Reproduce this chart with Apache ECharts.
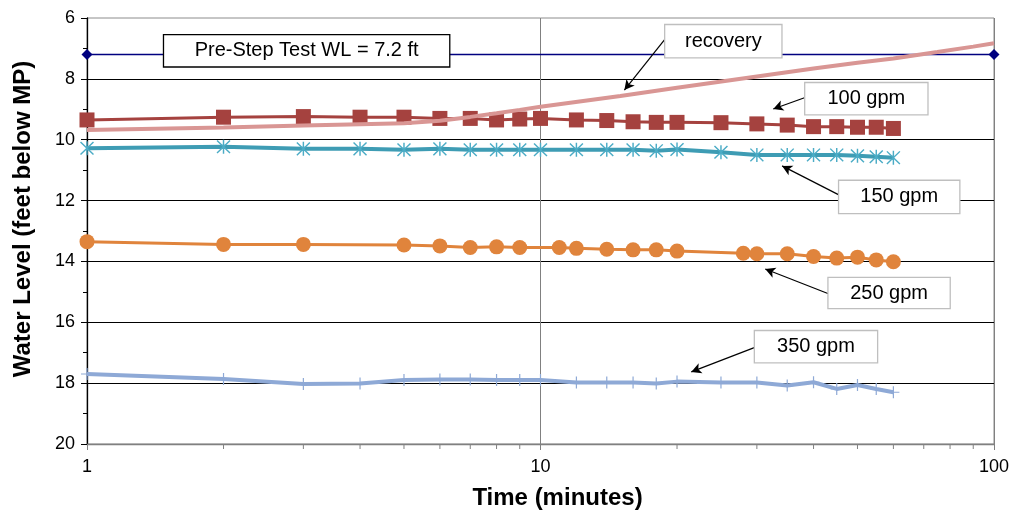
<!DOCTYPE html>
<html>
<head>
<meta charset="utf-8">
<script src="https://cdn.jsdelivr.net/npm/echarts@6/dist/echarts.min.js"></script>
<style>
  html, body { margin: 0; padding: 0; background: #fff; }
  #chart { width: 1013px; height: 515px; }
</style>
</head>
<body>
<div id="chart"></div>
<script>
// step test data (time in minutes, water level in feet below MP)
const times = [1, 2, 3, 4, 5, 6, 7, 8, 9, 10, 12, 14, 16, 18, 20, 25, 30, 35, 40, 45, 50, 55, 60];
const gpm100 = [9.35, 9.26, 9.24, 9.26, 9.26, 9.30, 9.30, 9.35, 9.32, 9.30, 9.35, 9.37, 9.41, 9.43, 9.43, 9.44, 9.48, 9.52, 9.57, 9.57, 9.59, 9.59, 9.63];
const gpm150 = [10.28, 10.23, 10.30, 10.30, 10.33, 10.30, 10.33, 10.33, 10.33, 10.33, 10.33, 10.33, 10.33, 10.36, 10.32, 10.41, 10.50, 10.50, 10.50, 10.50, 10.53, 10.56, 10.59];
const gpm350 = [17.70, 17.86, 18.03, 18.01, 17.90, 17.88, 17.88, 17.90, 17.90, 17.90, 17.98, 17.98, 17.98, 18.01, 17.95, 17.98, 17.98, 18.08, 17.97, 18.19, 18.06, 18.19, 18.30];

const times250 = [1, 2, 3, 5, 6, 7, 8, 9, 11, 12, 14, 16, 18, 20, 28, 30, 35, 40, 45, 50, 55, 60];
const gpm250 = [13.35, 13.44, 13.44, 13.46, 13.49, 13.54, 13.52, 13.54, 13.54, 13.57, 13.60, 13.62, 13.62, 13.66, 13.73, 13.75, 13.75, 13.84, 13.89, 13.86, 13.95, 14.01];

const timesRecovery = [1, 2, 3, 4, 5, 6, 7, 8, 9, 10, 15, 20, 30, 40, 50, 60, 75, 90, 100];
const recovery = [9.68, 9.60, 9.53, 9.49, 9.46, 9.38, 9.25, 9.13, 9.02, 8.92, 8.56, 8.29, 7.92, 7.66, 7.47, 7.33, 7.12, 6.94, 6.83];

const timesPreStep = [1, 100];
const preStepWL = [7.2, 7.2];

const xMinorTicks = [2, 3, 4, 5, 6, 7, 8, 9, 20, 30, 40, 50, 60, 70, 80, 90];

const zip = (xs, ys) => xs.map((x, i) => [x, ys[i]]);

// marker shapes (Excel-like asterisk and plus)
const asteriskPath = 'path://M9 0H11V20H9Z M0.3 1.7L1.7 0.3L19.7 18.3L18.3 19.7Z M18.3 0.3L19.7 1.7L1.7 19.7L0.3 18.3Z';
const plusPath = 'path://M9 0H11V9H20V11H11V20H9V11H0V9H9Z';

const FONT = '"Liberation Sans", Arial, sans-serif';

// annotation box: the label itself draws the white box
function box(text, coord, w, h, border) {
  return {
    coord: coord,
    symbol: 'rect',
    symbolSize: [w, h],
    itemStyle: { color: 'rgba(0,0,0,0)' },
    label: {
      show: true,
      position: 'inside',
      formatter: text,
      color: '#000',
      fontSize: 20,
      fontFamily: FONT,
      backgroundColor: '#fff',
      borderColor: border,
      borderWidth: 1.3,
      padding: 0,
      width: w,
      height: h,
      lineHeight: h,
      align: 'center',
      verticalAlign: 'middle',
    },
  };
}

function arrow(from, to) {
  return [{ coord: from }, { coord: to }];
}

const chart = echarts.init(document.getElementById('chart'), null, { renderer: 'canvas' });

const option = {
  animation: false,
  backgroundColor: '#fff',
  grid: {
    left: 87,
    right: 19,
    top: 18,
    bottom: 71,
    show: true,
    borderColor: '#8c8c8c',
    borderWidth: 1,
  },
  xAxis: {
    type: 'log',
    logBase: 10,
    min: 1,
    max: 100,
    name: 'Time (minutes)',
    nameLocation: 'middle',
    nameGap: 42,
    nameTextStyle: { fontSize: 24, fontWeight: 'bold', color: '#000', fontFamily: FONT, padding: [0, 0, 0, 34] },
    axisLine: { show: true, lineStyle: { color: '#808080', width: 1.3 } },
    axisTick: { show: true, inside: false, length: 6, lineStyle: { color: '#808080' } },
    axisLabel: { fontSize: 18, color: '#000', margin: 14, fontFamily: FONT },
    splitLine: { show: true, lineStyle: { color: '#808080', width: 1 } },
  },
  yAxis: {
    type: 'value',
    inverse: true,
    min: 6,
    max: 20,
    interval: 2,
    name: 'Water Level (feet below MP)',
    nameLocation: 'middle',
    nameGap: 52,
    nameTextStyle: { fontSize: 24, fontWeight: 'bold', color: '#000', fontFamily: FONT, padding: [0, 0, 0, 24] },
    axisLine: { show: true, lineStyle: { color: '#000', width: 1.3 } },
    axisTick: { show: true, inside: false, length: 6, lineStyle: { color: '#000' } },
    minorTick: { show: true, splitNumber: 2, length: 4, lineStyle: { color: '#000' } },
    axisLabel: { fontSize: 18, color: '#000', margin: 12, fontFamily: FONT },
    splitLine: { show: true, showMinLine: false, showMaxLine: false, lineStyle: { color: '#000', width: 1 } },
  },
  series: [
    {
      name: 'Pre-Step Test WL',
      type: 'line',
      data: zip(timesPreStep, preStepWL),
      symbol: 'diamond',
      symbolSize: 11,
      lineStyle: { color: '#000080', width: 1.5 },
      itemStyle: { color: '#000080' },
      z: 2,
    },
    {
      name: '100 gpm',
      type: 'line',
      data: zip(times, gpm100),
      symbol: 'rect',
      symbolSize: 15,
      lineStyle: { color: '#A5423F', width: 3 },
      itemStyle: { color: '#A5423F' },
      z: 3,
    },
    {
      name: '150 gpm',
      type: 'line',
      data: zip(times, gpm150),
      symbol: asteriskPath,
      symbolSize: 14,
      lineStyle: { color: '#3E9CB4', width: 4 },
      itemStyle: { color: '#4BACC6' },
      z: 3,
    },
    {
      name: '250 gpm',
      type: 'line',
      data: zip(times250, gpm250),
      symbol: 'circle',
      symbolSize: 15,
      lineStyle: { color: '#E0843C', width: 3 },
      itemStyle: { color: '#E0843C' },
      z: 3,
    },
    {
      name: '350 gpm',
      type: 'line',
      data: zip(times, gpm350),
      symbol: plusPath,
      symbolSize: 12,
      lineStyle: { color: '#8EA9D6', width: 4 },
      itemStyle: { color: '#8EA9D6' },
      z: 3,
    },
    {
      name: 'recovery',
      type: 'line',
      data: zip(timesRecovery, recovery),
      symbol: 'none',
      lineStyle: { color: '#D99694', width: 4 },
      z: 4,
    },
    // minor ticks on the log time axis
    {
      type: 'custom',
      silent: true,
      clip: false,
      data: xMinorTicks.map((t) => [t, 20]),
      renderItem: function (params, api) {
        const p = api.coord([api.value(0), api.value(1)]);
        return {
          type: 'line',
          shape: { x1: p[0], y1: p[1], x2: p[0], y2: p[1] + 5 },
          style: { stroke: '#808080', lineWidth: 1 },
        };
      },
      z: 1,
    },
    // annotation boxes and arrows
    {
      type: 'line',
      data: [],
      silent: true,
      z: 10,
      markLine: {
        silent: true,
        symbol: ['none', 'arrow'],
        symbolSize: [8, 10],
        label: { show: false },
        lineStyle: { color: '#000', width: 1.2, type: 'solid' },
        data: [
          arrow([18.76, 6.72], [15.31, 8.37]),
          arrow([38.2, 8.62], [32.6, 8.99]),
          arrow([45.6, 11.82], [34.1, 10.86]),
          arrow([43.3, 15.07], [31.3, 14.25]),
          arrow([29.9, 16.81], [21.5, 17.63]),
        ],
      },
      markPoint: {
        silent: true,
        data: [
          box('Pre-Step Test WL = 7.2 ft', [3.05, 7.08], 285, 31, '#000'),
          box('recovery', [25.3, 6.76], 116, 32, '#bfbfbf'),
          box('100 gpm', [52.3, 8.65], 122, 31, '#bfbfbf'),
          box('150 gpm', [61.8, 11.88], 120, 32, '#bfbfbf'),
          box('250 gpm', [58.7, 15.04], 121, 30, '#bfbfbf'),
          box('350 gpm', [40.5, 16.80], 122, 31, '#bfbfbf'),
        ],
      },
    },
  ],
};

chart.setOption(option);
</script>
</body>
</html>
